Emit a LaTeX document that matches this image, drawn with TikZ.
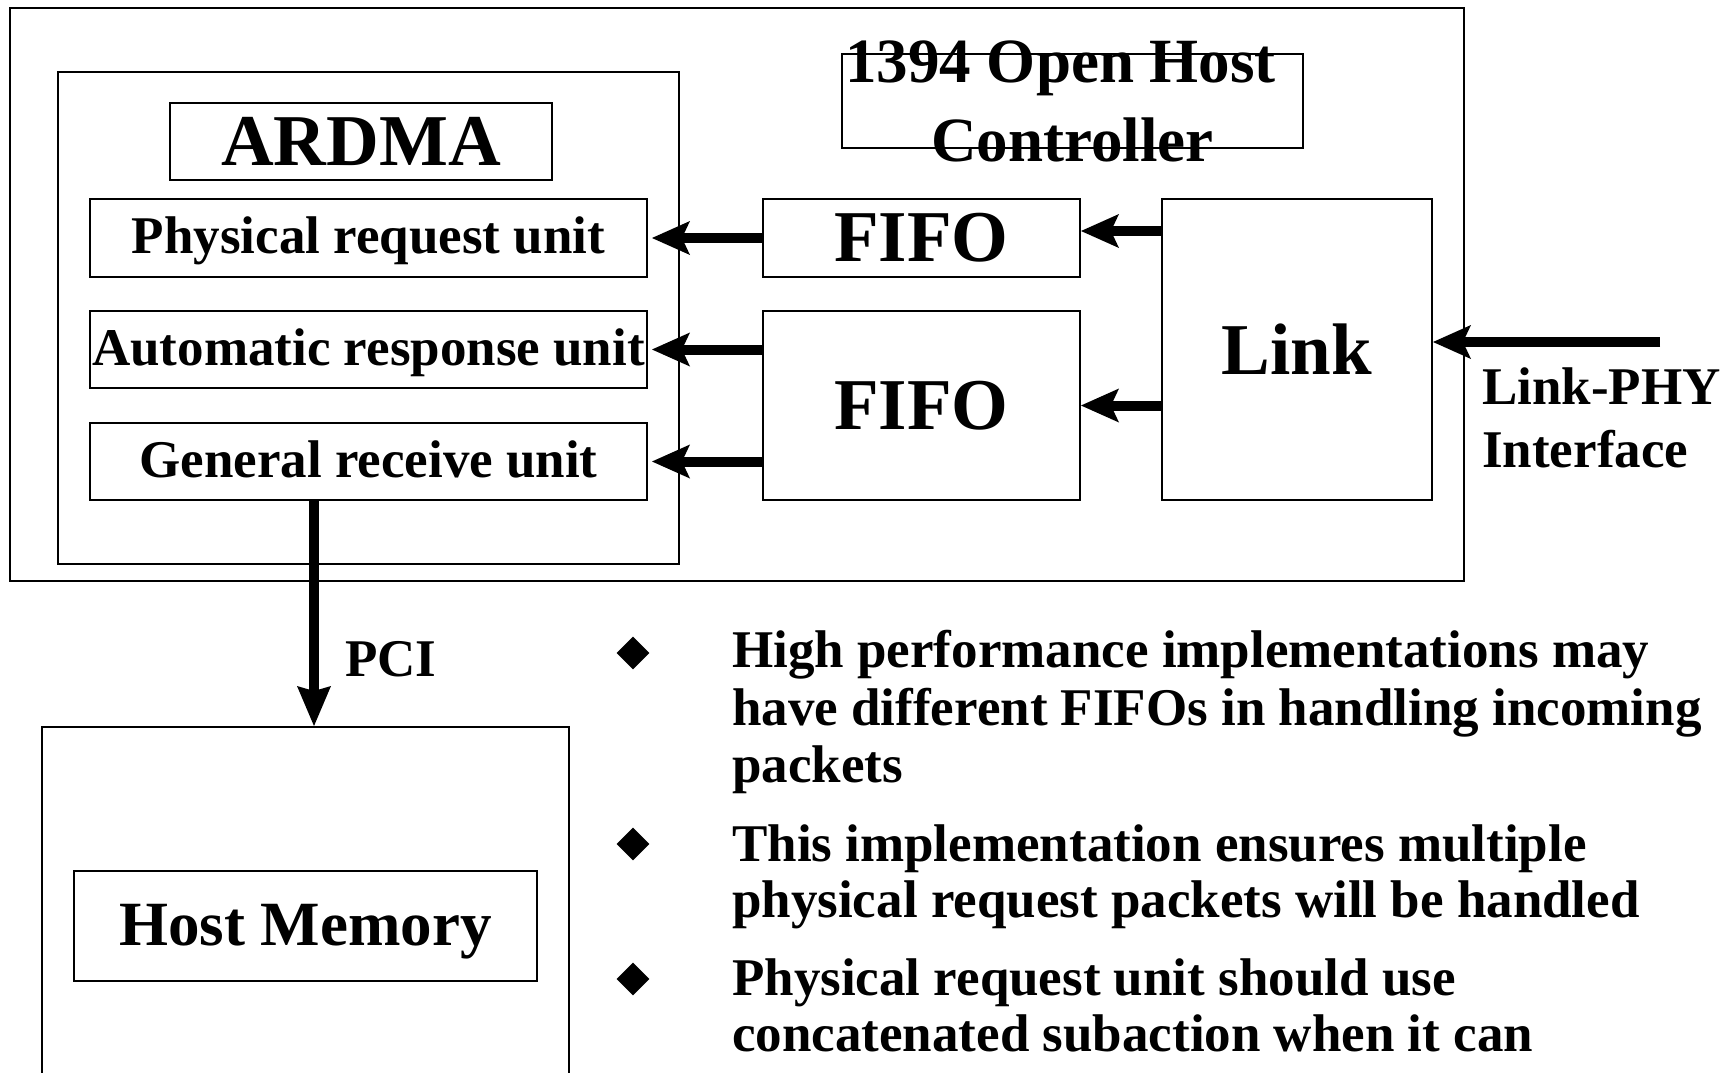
\documentclass[tikz,border=0pt]{standalone}
\usepackage{fontspec}
\setmainfont{Liberation Serif}
\usetikzlibrary{arrows.meta,shapes.geometric,calc}

\newcommand\fsz[2]{\fontsize{#1}{#2}\selectfont}

\begin{document}
\begin{tikzpicture}[x=1pt,y=-1pt,
  blk/.style={draw, line width=2pt, rectangle, inner sep=0pt, font=\bfseries\fsz{53}{64}},
  big/.style={font=\bfseries\fsz{73}{80}},
  mid/.style={font=\bfseries\fsz{63}{79}},
  flow/.style={line width=10pt, -{Stealth[length=38pt, width=34pt, inset=8pt, line width=0pt]}},
  pciflow/.style={line width=10pt, -{Stealth[length=40pt, width=34pt, inset=5pt, line width=0pt]}},
  lbl/.style={inner sep=0pt, font=\bfseries\fsz{53}{57.5}, align=left},
  bul/.style={shape=diamond, fill, inner sep=0pt, minimum width=33pt, minimum height=33pt}
]
\clip (0,0) rectangle (1735,1073);
\fill[white] (0,0) rectangle (1735,1073);

% controller frame and its title
\node[blk, minimum width=1454pt, minimum height=573pt] (ohc) at (737,294.5) {};
\node[blk, minimum width=461pt, minimum height=94pt] (ohcbox) at (1072.5,101) {};
\node[mid, align=center, inner sep=0pt, anchor=north] (ohctitle) at (1072.5,41) {1394 Open Host\hspace*{24pt}\\Controller};

% ARDMA block
\node[blk, minimum width=621pt, minimum height=492pt] (ardmabox) at (368.5,318) {};
\node[blk, big, minimum width=382pt, minimum height=77pt] (ardma) at (361,141.5) {ARDMA};
\node[blk, minimum width=557pt, minimum height=78pt, text depth=5pt] (pru) at (368.5,238) {Physical request unit};
\node[blk, minimum width=557pt, minimum height=77pt, text depth=5pt] (aru) at (368.5,349.5) {Automatic response unit};
\node[blk, minimum width=557pt, minimum height=77pt, text depth=4pt] (gru) at (368.5,461.5) {General receive unit};

% FIFOs and link layer
\node[blk, big, minimum width=317pt, minimum height=78pt] (fifoa) at (921.5,238) {FIFO};
\node[blk, big, minimum width=317pt, minimum height=189pt] (fifob) at (921.5,405.5) {FIFO};
\node[blk, big, minimum width=270pt, minimum height=301pt] (link) at (1297,349.5) {Link};

% host memory
\node[blk, minimum width=527pt, minimum height=373pt] (host) at (305.5,913.5) {};
\node[blk, mid, minimum width=463pt, minimum height=110pt, text depth=2pt] (mem) at (305.5,926) {Host Memory};

% data paths
\draw[flow, shorten >=4pt] (fifoa.west) -- (pru.east);
\draw[flow, shorten >=4pt] (fifob.west |- aru.east) -- (aru.east);
\draw[flow, shorten >=4pt] (fifob.west |- gru.east) -- (gru.east);
\coordinate (la) at ($(fifoa.east)+(0,-7)$);
\draw[flow] (la -| link.west) -- (la);
\draw[flow] (link.west |- fifob.east) -- (fifob.east);
\coordinate (phy) at (1660,342);
\draw[flow] (phy) -- (phy -| link.east);
\coordinate (pcix) at (314,0);
\draw[pciflow] (gru.south -| pcix) -- (host.north -| pcix);

% labels
\node[lbl, anchor=base west] (pci) at (345,676) {PCI};
\node[lbl, anchor=north west, font=\bfseries\fsz{53}{63}] (phylbl) at (1482,368) {Link-PHY\\Interface};

% notes
\node[bul] (b1) at (633,653) {};
\node[bul] (b2) at (633,844) {};
\node[bul] (b3) at (633,979) {};
\node[lbl, anchor=north west] (t1) at (732,630.4) {High performance implementations may\\have different FIFOs in handling incoming\\packets};
\node[lbl, anchor=north west, font=\bfseries\fsz{53}{56.5}] (t2) at (732,824.4) {This implementation ensures multiple\\physical request packets will be handled};
\node[lbl, anchor=north west, font=\bfseries\fsz{53}{56.5}] (t3) at (732,958.4) {Physical request unit should use\\concatenated subaction when it can};
\end{tikzpicture}
\end{document}
